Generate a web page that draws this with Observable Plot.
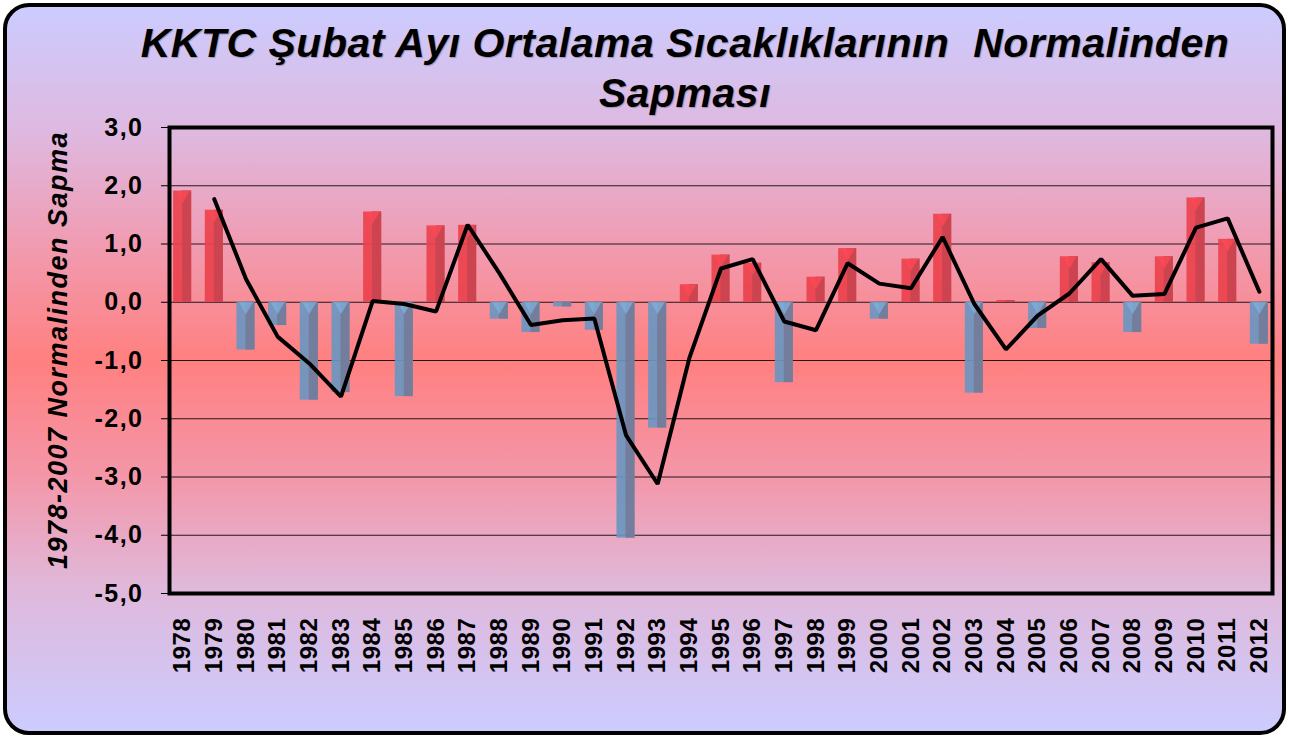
<!DOCTYPE html>
<html><head><meta charset="utf-8">
<script src="https://cdn.jsdelivr.net/npm/d3@7"></script>
<script src="https://cdn.jsdelivr.net/npm/@observablehq/plot@0.6"></script>
<style>
body{margin:0;background:#fff;}
#wrap{position:relative;width:1289px;height:738px;overflow:hidden;font-family:"Liberation Sans",Arial,sans-serif;}
#box{position:absolute;left:3px;top:3px;width:1275px;height:724px;border:4px solid #000;border-radius:26px;
background:linear-gradient(to bottom,#ccccff 0%,#dfb8df 17.6%,#f09cb2 32.5%,#ff8080 48.8%,#f496a8 64.5%,#e0b8da 80%,#ccccff 100%);}
#chart{position:absolute;left:0;top:0;}
#title{position:absolute;left:0;width:1370px;top:18px;text-align:center;font-size:41px;font-weight:bold;font-style:italic;letter-spacing:0.5px;line-height:50px;color:#000;text-shadow:1px 1px 1px rgba(0,0,0,0.25);}
#ylab{position:absolute;left:58px;top:350px;transform:translate(-50%,-50%) rotate(-90deg);white-space:nowrap;font-size:27px;font-weight:bold;font-style:italic;letter-spacing:1.5px;}
#chart text{font-family:"Liberation Sans",Arial,sans-serif;font-weight:bold;}
#chart g[aria-label="y-axis tick label"] text{letter-spacing:1.5px;}
#chart g[aria-label="x-axis tick label"] text{letter-spacing:0.6px;}
</style></head>
<body><div id="wrap"><div id="box"></div><div id="chart"></div>
<div id="title">KKTC Şubat Ayı Ortalama Sıcaklıklarının&nbsp; Normalinden<br>Sapması</div>
<div id="ylab">1978-2007 Normalinden Sapma</div></div>
<script>
const years = [1978,1979,1980,1981,1982,1983,1984,1985,1986,1987,1988,1989,1990,1991,1992,1993,1994,1995,1996,1997,1998,1999,2000,2001,2002,2003,2004,2005,2006,2007,2008,2009,2010,2011,2012];
const anomaly = [1.91,1.58,-0.82,-0.40,-1.68,-1.55,1.55,-1.62,1.31,1.32,-0.29,-0.52,-0.08,-0.48,-4.05,-2.16,0.30,0.81,0.67,-1.38,0.43,0.92,-0.29,0.74,1.51,-1.56,0.03,-0.45,0.78,0.68,-0.52,0.78,1.79,1.08,-0.72];
const lineYears = [1979,1980,1981,1982,1983,1984,1985,1986,1987,1988,1989,1990,1991,1992,1993,1994,1995,1996,1997,1998,1999,2000,2001,2002,2003,2004,2005,2006,2007,2008,2009,2010,2011,2012];
const lineValues = [1.77,0.40,-0.59,-1.05,-1.62,0.02,-0.03,-0.16,1.33,0.50,-0.39,-0.31,-0.28,-2.28,-3.12,-0.96,0.58,0.74,-0.33,-0.48,0.67,0.32,0.24,1.12,-0.03,-0.81,-0.23,0.15,0.74,0.11,0.14,1.28,1.44,0.18];
const yTicks = [-5,-4,-3,-2,-1,0,1,2,3];

const bars = years.map((y,i)=>({year:y, value:anomaly[i]}));
const line = lineYears.map((y,i)=>({year:y, value:lineValues[i]}));
const bevel = bars.filter(d => Math.abs(d.value) > 0.2);
const fmt = d => d.toFixed(1).replace(".", ",");

const chart = Plot.plot({
  width:1289, height:738,
  marginLeft:169, marginRight:17, marginTop:127, marginBottom:145,
  style:{background:"transparent", color:"#000", overflow:"visible"},
  x:{type:"band", domain:years, paddingInner:0.43, paddingOuter:0.13, round:false, label:null},
  y:{domain:[-5,3], label:null},
  marks:[
    Plot.ruleY(yTicks, {stroke:"#000", strokeWidth:1, strokeOpacity:0.85}),
    Plot.barY(bars, {x:"year", y:"value", fill:d=>d.value>=0?"#ea424d":"#6b96c0", fillOpacity:0.92}),
    Plot.barY(bars, {x:"year", y:"value", insetLeft:9, fill:d=>d.value>=0?"#c9444f":"#737a98", fillOpacity:0.9}),
    Plot.dot(bevel, {x:"year", y:d=>Math.max(d.value,0), symbol:"triangle", rotate:180, r:5.2, dy:4, stroke:null,
      fill:d=>d.value>=0?"#ff4a55":"#7fb0dc", fillOpacity:0.75}),
    Plot.line(line, {x:"year", y:"value", stroke:"#000", strokeWidth:4, strokeLinejoin:"miter"}),
    Plot.frame({stroke:"#000", strokeWidth:4}),
    Plot.axisY({ticks:yTicks, tickFormat:fmt, tickSize:8, tickPadding:18, fontSize:25, fontWeight:"bold", label:null}),
    Plot.axisX({tickFormat:d=>String(d), tickRotate:-90, tickSize:0, tickPadding:24, fontSize:24, fontWeight:"bold", label:null})
  ]
});
document.getElementById("chart").appendChild(chart);
</script></body></html>
